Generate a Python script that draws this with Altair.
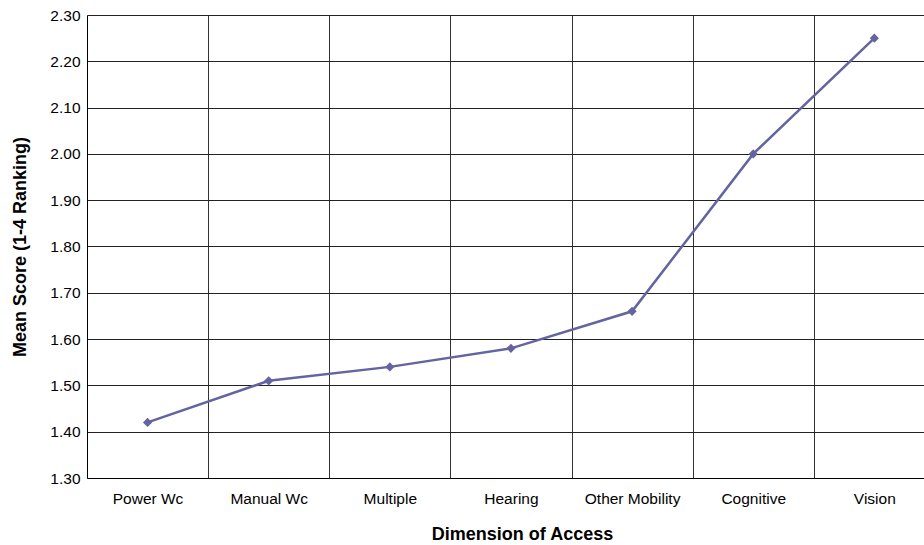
import altair as alt
import pandas as pd

categories = ["Power Wc", "Manual Wc", "Multiple", "Hearing", "Other Mobility", "Cognitive", "Vision"]
scores = [1.42, 1.51, 1.54, 1.58, 1.66, 2.00, 2.25]
y_ticks = [1.30, 1.40, 1.50, 1.60, 1.70, 1.80, 1.90, 2.00, 2.10, 2.20, 2.30]

df = pd.DataFrame({"idx": list(range(len(categories))), "category": categories, "score": scores})

n = len(categories)
x_values = sorted([i for i in range(n)] + [i + 0.5 for i in range(n - 1)])
label_arr = "[" + ",".join("'" + c + "'" for c in categories) + "]"

FONT = "Liberation Sans"
COLOR = "#6464a0"
W, H = 837, 463

x_enc = alt.X(
    "idx:Q",
    scale=alt.Scale(domain=[-0.5, 6.41], nice=False, zero=False),
    axis=alt.Axis(
        values=x_values,
        labelExpr=f"datum.value % 1 === 0 ? {label_arr}[datum.value] : ''",
        ticks=False,
        grid=True,
        gridColor="#333333",
        gridWidth=1,
        gridOpacity={"condition": {"test": "datum.value % 1 !== 0", "value": 1}, "value": 0},
        domain=True,
        domainColor="#000000",
        domainWidth=1,
        labelFont=FONT,
        labelFontSize=15.5,
        labelColor="#000000",
        labelPadding=13,
        labelBaseline="top",
        labelFlush=False,
        labelOverlap=False,
        title="Dimension of Access",
        titleFont=FONT,
        titleFontSize=18,
        titleFontWeight="bold",
        titleColor="#000000",
        titleX=435,
        titleY=56,
        titleBaseline="middle",
        titleAnchor="middle",
    ),
)

y_enc = alt.Y(
    "score:Q",
    scale=alt.Scale(domain=[1.3, 2.3], nice=False, zero=False),
    axis=alt.Axis(
        values=y_ticks,
        format=".2f",
        ticks=False,
        grid=True,
        gridColor="#222222",
        gridWidth=1,
        domain=True,
        domainColor="#000000",
        domainWidth=1,
        labelFont=FONT,
        labelFontSize=15.5,
        labelColor="#000000",
        labelPadding=7,
        labelFlush=False,
        labelOverlap=False,
        title="Mean Score (1-4 Ranking)",
        titleFont=FONT,
        titleFontSize=18,
        titleFontWeight="bold",
        titleColor="#000000",
        titleX=-67,
        titleY=H / 2,
        titleAngle=-90,
        titleBaseline="middle",
        titleAnchor="middle",
    ),
)

line = alt.Chart(df).mark_line(color=COLOR, strokeWidth=2.5).encode(x=x_enc, y=y_enc)
points = alt.Chart(df).mark_point(
    shape="diamond", filled=True, color=COLOR, size=85, opacity=1
).encode(x="idx:Q", y="score:Q")

chart = (
    alt.layer(line, points)
    .properties(
        width=W,
        height=H,
        autosize=alt.AutoSizeParams(type="none"),
        padding={"left": 87, "top": 15, "right": 0, "bottom": 67},
    )
    .configure_view(stroke=None)
    .configure(background="white")
)

chart.save("out.html", embed_options={"renderer": "svg", "actions": False})
